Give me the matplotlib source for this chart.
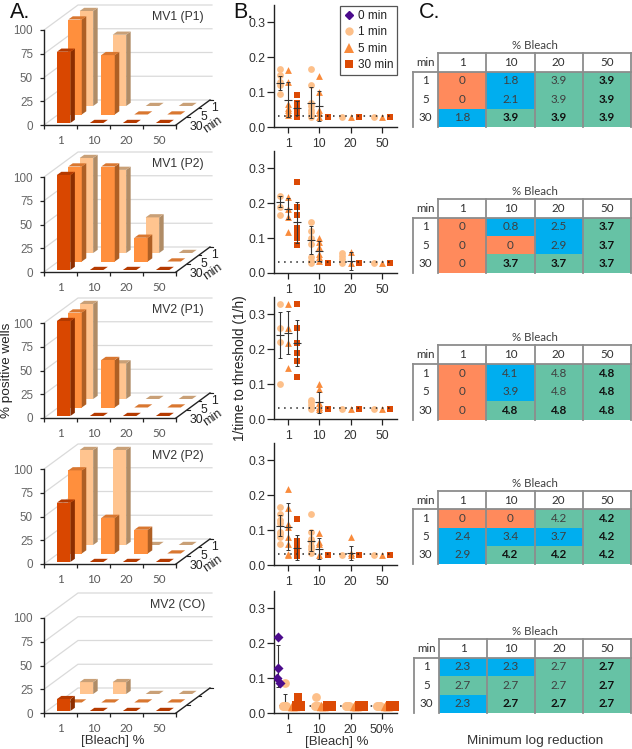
import numpy as np
import matplotlib
matplotlib.use("Agg")
import matplotlib.pyplot as plt
from matplotlib.colors import ListedColormap
from matplotlib.lines import Line2D

W, H = 632, 749

bleach = ["1", "10", "20", "50"]
minutes = ["1", "5", "30"]

# panel A, % positive wells, columns are 1/10/20/50 % bleach
a_names = ["MV1 (P1)", "MV1 (P2)", "MV2 (P1)", "MV2 (P2)", "MV2 (CO)"]
a_1min = [[100, 75, 0, 0], [100, 87.5, 37.5, 0], [100, 37.5, 0, 0], [100, 100, 0, 0], [12.5, 12.5, 0, 0]]
a_5min = [[100, 62.5, 0, 0], [100, 100, 25, 0], [100, 50, 0, 0], [87.5, 37.5, 25, 0], [0, 0, 0, 0]]
a_30min = [[75, 0, 0, 0], [100, 0, 0, 0], [100, 0, 0, 0], [62.5, 0, 0, 0], [12.5, 0, 0, 0]]

# panel B, 1/time to threshold, one list per bleach level
f = 0.028
b_1min = [
    [[.165, .148, .13, .12, .095], [.165, .12, .07, .06, .05, .04, .03], [f], [f]],
    [[.22, .188, .165], [.145, .12, .10, .082, .045, .035, f], [.057, .05, .04, .03], [f]],
    [[.33, .262, .22, .10], [.055, .05, .04, .03], [f], [f]],
    [[.165, .145, .13, .12, .095, .088, .08, .06], [.145, .095, .075, .07, .055, .045, .035], [f], [f]],
]
b_5min = [
    [[.163, .13, .065, .055, .05, .04, .035], [.145, .10, .05, .04, .03], [f], [f]],
    [[.218, .185, .16, .118], [.10, .09, .075, .055, .045, .035], [.06, .03], [f]],
    [[.33, .262, .218, .145], [.10, .085, .045, .035, f], [f], [f]],
    [[.218, .163, .118, .11, .08, .06, .032, f], [.092, .065, .06, f], [.08, .035, f], [f]],
]
b_30min = [
    [[.093, .07, .065, .06, .055, .05, .045, .04, .035, .03], [f], [f], [f]],
    [[.262, .188, .165, .13, .125, .115, .10, .08], [f], [f], [f]],
    [[.33, .262, .218, .188, .165, .12], [f], [f], [f]],
    [[.132, .07, .06, .05, .04, .035, .03, .025], [f], [f], [f]],
]
# mean and sd where a bar is visible: (time index, bleach index, mean, sd)
b_summary = [
    [(0, 0, .125, .02), (1, 0, .078, .05), (2, 0, .055, .02), (0, 1, .07, .045), (1, 1, .06, .042)],
    [(0, 0, .205, .015), (1, 0, .185, .03), (2, 0, .145, .06), (0, 1, .095, .04), (1, 1, .063, .03), (1, 2, .035, .025)],
    [(0, 0, .24, .066), (1, 0, .248, .062), (2, 0, .218, .065), (1, 1, .048, .03)],
    [(0, 0, .113, .03), (1, 0, .11, .068), (2, 0, .05, .035), (0, 1, .07, .03), (1, 1, .047, .03), (1, 2, .035, .02)],
]
b_floor = [0.032, 0.032, 0.032, 0.032]

# MV2 (CO) row of panel B
co_0min = [.218, .13, .10, .087]
co_0min_x = [-.31, -.31, -.36, -.27]
co_floor = 0.02
co_1min_extra = [.087, .045]
co_1min_extra_x = [-.1, .9]
co_30min_extra = [.045]
co_1min_off = [-.11, -.1, -.11, -.11]
co_5min_off = [.16, .1, .16, .15]
co_30min_off = [.32, .32, .35, .34]
co_spread = [-.05, 0, .05]

# panel C, minimum log reduction, rows 1/5/30 min
c_tables = [
    [[0, 1.8, 3.9, 3.9], [0, 2.1, 3.9, 3.9], [1.8, 3.9, 3.9, 3.9]],
    [[0, 0.8, 2.5, 3.7], [0, 0, 2.9, 3.7], [0, 3.7, 3.7, 3.7]],
    [[0, 4.1, 4.8, 4.8], [0, 3.9, 4.8, 4.8], [0, 4.8, 4.8, 4.8]],
    [[0, 0, 4.2, 4.2], [2.4, 3.4, 3.7, 4.2], [2.9, 4.2, 4.2, 4.2]],
    [[2.3, 2.3, 2.7, 2.7], [2.7, 2.7, 2.7, 2.7], [2.3, 2.7, 2.7, 2.7]],
]

bar_cols = {
    0: ("#FFC48F", "#C9A077", "#B08C66"),
    1: ("#FF8F3D", "#D97730", "#AE5F24"),
    2: ("#D94700", "#B53A00", "#8C2E00"),
}
dot_cols = ["#FDC08A", "#F98B3C", "#DC4A05"]
dot_marks = ["o", "^", "s"]
purple = "#4B0B8C"

plt.rcParams["font.family"] = ["Liberation Sans", "DejaVu Sans"]
fig = plt.figure(figsize=(W / 100, H / 100), dpi=100)


def axes_px(left, top, right, bottom):
    ax = fig.add_axes([left / W, 1 - bottom / H, (right - left) / W, (bottom - top) / H])
    ax.patch.set_visible(False)
    return ax


# ---- A: fake 3D bars
PX_X = 33.0
PX_Y = 0.95
DEPTH_X = 34 / PX_X
DEPTH_Y = 25 / PX_Y
ROW_X = 11.4 / PX_X
ROW_Y = 8.5 / PX_Y
BAR_W = 13.5 / PX_X
SIDE_X = 4.5 / PX_X
SIDE_Y = 3.2 / PX_Y


def bar3d(ax, col, row, val):
    # row 0 is 30 min at the front
    x0 = 0.39 + col + row * ROW_X
    y0 = 2 / PX_Y + row * ROW_Y
    front, top, side = bar_cols[2 - row]
    x1 = x0 + BAR_W
    y1 = y0 + val
    if val > 0:
        ax.fill([x0, x1, x1, x0], [y0, y0, y1, y1], color=front, lw=0)
        ax.fill([x1, x1 + SIDE_X, x1 + SIDE_X, x1], [y0, y0 + SIDE_Y, y1 + SIDE_Y, y1], color=side, lw=0)
    ax.fill([x0, x1, x1 + SIDE_X, x0 + SIDE_X], [y1, y1, y1 + SIDE_Y, y1 + SIDE_Y], color=top, lw=0)


a_base = [125, 272, 418, 564, 713]
for i, base in enumerate(a_base):
    ax = axes_px(44, base - 125, 44 + 6 * PX_X, base + 10)
    ax.set_xlim(0, 6)
    ax.set_ylim(-10 / PX_Y, 125 / PX_Y)
    for v in [0, 25, 50, 75, 100]:
        ax.plot([0, DEPTH_X, 5.09], [v, v + DEPTH_Y, v + DEPTH_Y], color="#DADADA", lw=0.9, zorder=1, clip_on=False)
    for row, vals in zip([2, 1, 0], [a_1min[i], a_5min[i], a_30min[i]]):
        for col, val in enumerate(vals):
            bar3d(ax, col, row, val)
    # depth axis on the right
    ax.plot([4, 4 + DEPTH_X], [0, DEPTH_Y], color="#222222", lw=1.0, clip_on=False)
    for t in [1 / 3, 2 / 3, 1]:
        ax.plot([4 + t * DEPTH_X, 4 + t * DEPTH_X + 0.08], [t * DEPTH_Y, t * DEPTH_Y], color="#222222", lw=0.8, clip_on=False)
    if i < 4:
        for lab, xp, yp in zip(minutes[::-1], [4.63, 4.84, 5.18], [-2, 8.4, 17.5]):
            ax.text(xp, yp, lab, ha="center", va="center", fontsize=8.8, color="#222222")
        ax.text(5.12, 0, "min", ha="center", va="center", fontsize=8.8, rotation=35, color="#222222")
    ax.text(4.06, 114, a_names[i], ha="center", va="center", fontsize=8.8, color="#333333")
    for side in ["top", "right"]:
        ax.spines[side].set_visible(False)
    ax.spines["left"].set_bounds(0, 100)
    ax.spines["bottom"].set_position(("data", 0))
    ax.spines["bottom"].set_bounds(0, 4)
    for side in ["left", "bottom"]:
        ax.spines[side].set_color("#222222")
        ax.spines[side].set_linewidth(1.0)
    ax.set_yticks([0, 25, 50, 75, 100])
    ax.tick_params(axis="y", labelsize=8.4, labelcolor="#666666", length=3, width=0.9, pad=5, color="#222222")
    ax.set_xticks([0, 1, 2, 3, 4])
    ax.set_xticklabels([])
    ax.tick_params(axis="x", which="major", length=3, width=0.9, color="#222222")
    ax.set_xticks([0.5, 1.5, 2.5, 3.5], minor=True)
    ax.set_xticklabels(bleach, minor=True, family="Lato", fontsize=8.4, color="#595959")
    ax.tick_params(axis="x", which="minor", length=0, pad=7)

fig.text(7 / W, 1 - 370 / H, "% positive wells", rotation=90, ha="center", va="center", fontsize=9.7, color="#222222")
fig.text(113 / W, 1 - 741 / H, "[Bleach] %", ha="center", va="center", fontsize=9.5, color="#333333")

# ---- B: scatter panels
offs = [-.27, 0, .27]
b_base = [127, 273, 419, 565, 713]
b_axes = []
for base in b_base:
    ax = axes_px(274, base - 122, 397, base)
    ax.set_xlim(-0.45, 3.48)
    ax.set_ylim(0, 0.35)
    for side in ["top", "right"]:
        ax.spines[side].set_visible(False)
    for side in ["left", "bottom"]:
        ax.spines[side].set_color("#222222")
        ax.spines[side].set_linewidth(1.0)
    ax.set_yticks([0, .1, .2, .3])
    ax.set_yticklabels(["0.0", "0.1", "0.2", "0.3"])
    ax.set_xticks([0, 1, 2, 3])
    ax.set_xticklabels(bleach)
    ax.tick_params(axis="y", labelsize=8.8, labelcolor="#333333", length=5, width=0.9, pad=1, color="#222222")
    ax.tick_params(axis="x", labelsize=8.8, labelcolor="#333333", length=4, width=0.9, pad=4, color="#222222")
    b_axes.append(ax)

for i in range(4):
    ax = b_axes[i]
    for t, group in enumerate([b_1min[i], b_5min[i], b_30min[i]]):
        for c, vals in enumerate(group):
            ax.scatter([c + offs[t]] * len(vals), vals, s=24, marker=dot_marks[t], color=dot_cols[t], lw=0, zorder=3, clip_on=False)
    ax.plot([-.32, 3.3], [b_floor[i], b_floor[i]], color="#222222", lw=1.1, ls=(0, (1, 3)), zorder=4)
    for t, c, mean, sd in b_summary[i]:
        ax.errorbar(c + offs[t], mean, yerr=sd, color="#333333", lw=0.8, capsize=1.6, capthick=0.7, zorder=5)
        ax.plot(c + offs[t], mean, marker="_", ms=6, mew=0.8, color="#333333", zorder=5)

# MV2 (CO)
ax = b_axes[4]
ax.plot([-.3, 3.48], [co_floor, co_floor], color="#222222", lw=1.1, ls=(0, (1, 3)), zorder=2)
ax.errorbar(-.31, .135, yerr=.06, color="#333333", lw=0.8, capsize=1.6, capthick=0.7, zorder=2)
ax.errorbar(-.1, .037, yerr=.018, color="#333333", lw=0.8, capsize=1.6, capthick=0.7, zorder=2)
ax.errorbar(.32, .025, yerr=.006, color="#333333", lw=0.8, capsize=1.6, capthick=0.7, zorder=2)
ax.scatter(co_0min_x, co_0min, s=26, marker="D", color=purple, lw=0, zorder=4)
ax.scatter(co_1min_extra_x, co_1min_extra, s=40, marker="o", color=dot_cols[0], lw=0, zorder=3)
ax.scatter(co_30min_off[:1], co_30min_extra, s=36, marker="s", color=dot_cols[2], lw=0, zorder=3)
for c in range(4):
    for t, off in enumerate([co_1min_off[c], co_5min_off[c], co_30min_off[c]]):
        xs = [c + off + d for d in co_spread]
        ax.scatter(xs, [co_floor] * 3, s=[42, 46, 42][t], marker=dot_marks[t], color=dot_cols[t], lw=0, zorder=3 + t * 0.1, clip_on=False)
ax.set_xticklabels(["1", "10", "20", "50%"])

handles = [
    Line2D([], [], ls="", marker="D", ms=4, color=purple, label="0 min"),
    Line2D([], [], ls="", marker="o", ms=6, color=dot_cols[0], mew=0, label="1 min"),
    Line2D([], [], ls="", marker="^", ms=6.5, color=dot_cols[1], mew=0, label="5 min"),
    Line2D([], [], ls="", marker="s", ms=5.5, color=dot_cols[2], mew=0, label="30 min"),
]
leg = b_axes[0].legend(handles=handles, loc="upper left", bbox_to_anchor=(0.537, 0.995), borderaxespad=0, fontsize=8.5,
                       fancybox=False, framealpha=1, edgecolor="#555555", handlelength=0.8, handletextpad=0.35,
                       labelspacing=0.38, borderpad=0.35, labelcolor="#222222")
leg.get_frame().set_linewidth(0.9)
leg.set_zorder(10)

fig.text(240 / W, 1 - 368 / H, "1/time to threshold (1/h)", rotation=90, ha="center", va="center", fontsize=9.9, color="#222222")
fig.text(337 / W, 1 - 742 / H, "[Bleach] %", ha="center", va="center", fontsize=9.5, color="#333333")

# ---- C: tables
cmap = ListedColormap(["#FF8A5C", "#00AEEF", "#66C2A5"])
c_top = [53, 199, 345, 491, 639]
c_bottom = [127, 273, 420, 564, 713]
c_left = [438, 438, 438, 438, 439]
line_col = "#8C8C8C"
for vals, top, bottom, left in zip(c_tables, c_top, c_bottom, c_left):
    ax = axes_px(left, top, 631, bottom)
    ax.set_xlim(0, 4)
    ax.set_ylim(3, -1)
    ax.axis("off")
    arr = np.array(vals)
    classes = np.where(arr == 0, 0, np.where(arr == arr.max(), 2, 1))
    ax.pcolormesh(np.arange(5), np.arange(4), classes, cmap=cmap, vmin=0, vmax=2)
    for x in range(5):
        ax.plot([x, x], [-1, 3], color=line_col, lw=1.3, clip_on=False, zorder=3)
    ax.plot([0, 4], [-1, -1], color=line_col, lw=1.3, clip_on=False, zorder=3)
    ax.plot([-.52, 4], [0, 0], color=line_col, lw=1.3, clip_on=False, zorder=3)
    ax.plot([-.52, -.52], [0, 3], color=line_col, lw=1.3, clip_on=False, zorder=3)
    ax.text(2, -1.42, "% Bleach", ha="center", va="center", family="Lato", fontsize=8.3, color="#404040")
    ax.text(-.26, -.48, "min", ha="center", va="center", family="Lato", fontsize=8.3, color="#303030")
    for c, lab in enumerate(bleach):
        ax.text(c + .5, -.48, lab, ha="center", va="center", family="Lato", fontsize=8.4, color="#303030")
    for r, lab in enumerate(minutes):
        ax.text(-.26, r + .5, lab, ha="center", va="center", family="Lato", fontsize=8.4, color="#303030")
        for c in range(4):
            v = arr[r, c]
            bold = v == arr.max() and (c == 3 or r == 2)
            ax.text(c + .5, r + .5, f"{v:g}", ha="center", va="center", family="Lato", fontsize=8.4,
                    fontweight="bold" if bold else "normal", color="#111111" if bold else "#3F3F3F")

fig.text(535 / W, 1 - 741 / H, "Minimum log reduction", ha="center", va="center", fontsize=9.7, color="#333333")

for lab, x in zip(["A.", "B.", "C."], [20, 243, 430]):
    fig.text(x / W, 1 - 12 / H, lab, ha="center", va="center", fontsize=15.5, color="#111111")

fig.savefig("out.png", dpi=100)
